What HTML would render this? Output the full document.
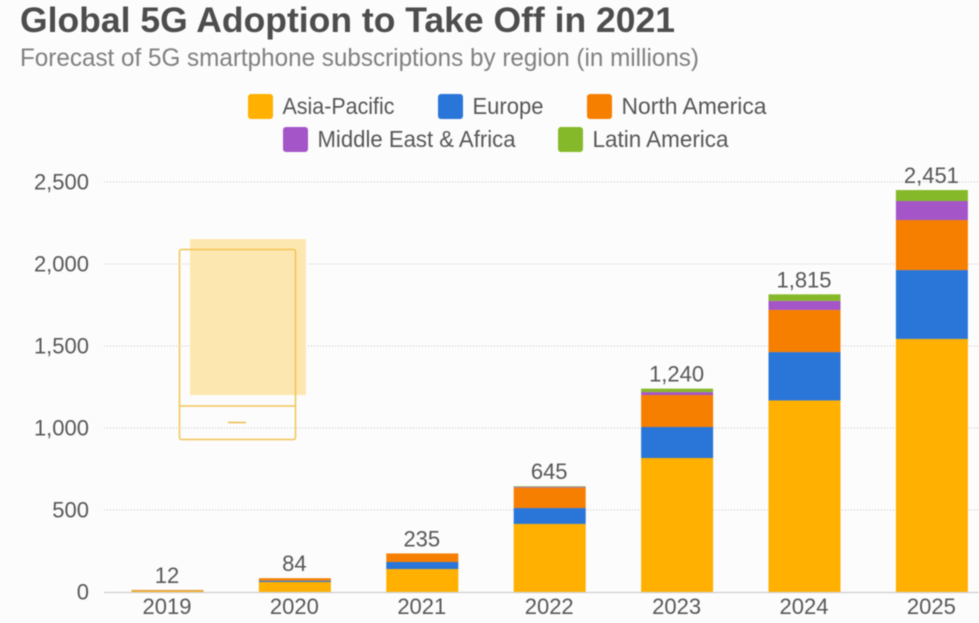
<!DOCTYPE html>
<html lang="en">
<head>
<meta charset="utf-8">
<title>Global 5G Adoption to Take Off in 2021</title>
<style>
html,body{margin:0;padding:0;width:979px;height:623px;overflow:hidden;background:#fcfcfc}
svg{display:block;filter:blur(0.45px)}
text{font-family:"Liberation Sans",sans-serif;fill:#575757}
</style>
</head>
<body>
<svg id="chart" xmlns="http://www.w3.org/2000/svg" width="979" height="623" viewBox="0 0 979 623">
  <rect width="979" height="623" fill="#fcfcfc"/>
  <text x="20" y="32" font-size="35" font-weight="700" style="fill:#4d4d4d" textLength="655" lengthAdjust="spacingAndGlyphs">Global 5G Adoption to Take Off in 2021</text>
  <text x="20" y="66" font-size="25" style="fill:#808080" textLength="679" lengthAdjust="spacingAndGlyphs">Forecast of 5G smartphone subscriptions by region (in millions)</text>

  <g id="legend"></g>
  <g id="gridlines"></g>

  <g>
    <rect x="190" y="239" width="116" height="156" fill="#fde7b0"/>
    <rect x="179.5" y="249.5" width="116" height="190" rx="2" fill="none" stroke="#f2c455" stroke-width="1.5"/>
    <line x1="180" y1="406" x2="295" y2="406" stroke="#f2c455" stroke-width="1.5"/>
    <line x1="228" y1="422.5" x2="246" y2="422.5" stroke="#eebb48" stroke-width="1.5"/>
  </g>

  <g id="bars"></g>
  <g id="totals"></g>
  <line x1="104" y1="592.5" x2="979" y2="592.5" stroke="#cfcfcf" stroke-width="1.2"/>
  <g id="xlabels"></g>
  <g id="ylabels"></g>
</svg>
<script>
const years = ['2019', '2020', '2021', '2022', '2023', '2024', '2025'];
const asiaPacific = [8, 61, 140, 415, 817, 1168, 1543];
const europe = [1, 8, 43, 97, 189, 295, 420];
const northAmerica = [3, 15, 52, 124, 195, 257, 305];
const middleEastAfrica = [0, 0, 0, 5, 18, 55, 116];
const latinAmerica = [0, 0, 0, 4, 21, 40, 67];
const totalLabels = ['12', '84', '235', '645', '1,240', '1,815', '2,451'];
const yTicks = [0, 500, 1000, 1500, 2000, 2500];
const yTickLabels = ['0', '500', '1,000', '1,500', '2,000', '2,500'];
const seriesNames = ['Asia-Pacific', 'Europe', 'North America', 'Middle East & Africa', 'Latin America'];
const seriesValues = [asiaPacific, europe, northAmerica, middleEastAfrica, latinAmerica];

const seriesColors = ['#ffb000', '#2a75d8', '#f67f00', '#a455c8', '#86b92a'];
const NS = 'http://www.w3.org/2000/svg';
const yScale = v => 592 - v * 410 / 2500;
const xScale = i => 167.5 + i * 127.4;
const BAR_W = 72;

function make(tag, attrs, parent, txt) {
  const el = document.createElementNS(NS, tag);
  for (const k in attrs) el.setAttribute(k, attrs[k]);
  if (txt !== undefined) el.textContent = txt;
  parent.appendChild(el);
  return el;
}
const slug = s => s.toLowerCase().replace(/[^a-z0-9]+/g, '-');

const gridG = document.getElementById('gridlines');
const yG = document.getElementById('ylabels');
yTicks.forEach((t, i) => {
  if (t > 0) {
    const g = make('line', {x1: 104, x2: 979, y1: yScale(t), y2: yScale(t), stroke: '#c4c4c4', 'stroke-width': 1, 'stroke-dasharray': '1 2'}, gridG);
    
    
  }
  const l = make('text', {x: 89, y: yScale(t) + 7.5, 'text-anchor': 'end', 'font-size': 22}, yG, yTickLabels[i]);
  
  
});

const barsG = document.getElementById('bars');
const totalsG = document.getElementById('totals');
const xG = document.getElementById('xlabels');
years.forEach((yr, i) => {
  let cum = 0;
  seriesValues.forEach((vals, s) => {
    const v = vals[i];
    if (v > 0) {
      const r = make('rect', {x: xScale(i) - BAR_W / 2, y: yScale(cum + v), width: BAR_W, height: yScale(cum) - yScale(cum + v), fill: seriesColors[s]}, barsG);
      
      
    }
    cum += v;
  });
  const tl = make('text', {x: xScale(i) - 0.5, y: yScale(cum) - 7, 'text-anchor': 'middle', 'font-size': 22}, totalsG, totalLabels[i]);
  
  
  const xl = make('text', {x: xScale(i) - 0.5, y: 614, 'text-anchor': 'middle', 'font-size': 22}, xG, yr);
  
  
});

const legendG = document.getElementById('legend');
const legendSwatchX = [248, 438, 587, 283, 558];
const legendSwatchY = [94, 94, 94, 127, 127];
const legendTextW = [112, 71, 145, 198, 136];
seriesNames.forEach((name, s) => {
  const sw = make('rect', {x: legendSwatchX[s], y: legendSwatchY[s], width: 25, height: 25, rx: 3, fill: seriesColors[s]}, legendG);
  
  
  const t = make('text', {x: legendSwatchX[s] + 34.5, y: legendSwatchY[s] + 20, 'font-size': 23, textLength: legendTextW[s], lengthAdjust: 'spacingAndGlyphs'}, legendG, name);
  
  
});
</script>
</body>
</html>
